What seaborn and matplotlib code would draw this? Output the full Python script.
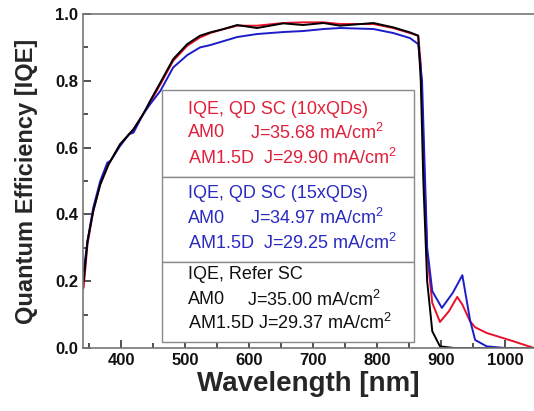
import numpy as np
import pandas as pd
import matplotlib
matplotlib.use('Agg')
import matplotlib.pyplot as plt
from matplotlib.patches import Rectangle
from matplotlib.ticker import MultipleLocator
import seaborn as sns

# IQE, QD SC (10xQDs) - red
wl_red=[341,347,356,367,380,398,419,434,445,461,481,503,523,539,560,581,612,653,684,716,742,794,825,851,864,868,872,878,886,898,912,925,933,945,953,971,1013,1045]
iqe_red=[0.18,0.31,0.41,0.49,0.55,0.61,0.655,0.70,0.735,0.79,0.86,0.905,0.93,0.943,0.955,0.965,0.965,0.973,0.975,0.975,0.97,0.97,0.958,0.943,0.935,0.85,0.6,0.28,0.135,0.078,0.11,0.153,0.13,0.08,0.062,0.045,0.02,0.0]

# IQE, QD SC (15xQDs) - blue
wl_blue=[341,347,356,367,378,383,398,412,419,434,445,461,481,503,523,539,581,612,653,684,716,742,794,825,851,864,870,874,878,886,901,918,933,945,953,971,1000,1045]
iqe_blue=[0.23,0.32,0.42,0.50,0.555,0.56,0.605,0.64,0.645,0.70,0.73,0.77,0.84,0.877,0.90,0.907,0.931,0.94,0.946,0.949,0.955,0.958,0.955,0.943,0.928,0.91,0.8,0.55,0.30,0.17,0.12,0.165,0.218,0.084,0.024,0.005,0.0,0.0]

# IQE, Refer SC - black
wl_ref=[341,347,356,367,380,398,419,434,445,461,481,503,523,539,560,581,612,653,684,716,742,794,825,851,864,868,872,878,886,898,920,1045]
iqe_ref=[0.20,0.32,0.41,0.49,0.55,0.61,0.655,0.70,0.74,0.795,0.865,0.91,0.935,0.945,0.955,0.967,0.958,0.972,0.967,0.973,0.965,0.973,0.96,0.945,0.935,0.8,0.5,0.2,0.05,0.005,0.0,0.0]

box_titles=['IQE, QD SC (10xQDs)','IQE, QD SC (15xQDs)','IQE, Refer SC']
am0_labels=['J=35.68 mA/cm$^2$','J=34.97 mA/cm$^2$','J=35.00 mA/cm$^2$']
am15_labels=['AM1.5D  J=29.90 mA/cm$^2$','AM1.5D  J=29.25 mA/cm$^2$','AM1.5D J=29.37 mA/cm$^2$']

red='#e8102a'
blue='#1c1cc8'
colors=[red,blue,'black']
text_colors=['#e0203a','#2a2ac0','#111111']

sns.set_style('ticks')
plt.rcParams['font.family']=['Liberation Sans','DejaVu Sans']
plt.rcParams['mathtext.default']='regular'
plt.rcParams['xtick.bottom']=True
plt.rcParams['ytick.left']=True
plt.rcParams['xtick.direction']='in'
plt.rcParams['ytick.direction']='in'
plt.rcParams['xtick.major.size']=6
plt.rcParams['ytick.major.size']=6
plt.rcParams['xtick.minor.size']=3
plt.rcParams['ytick.minor.size']=3
plt.rcParams['xtick.minor.visible']=True
plt.rcParams['ytick.minor.visible']=True

fig=plt.figure(figsize=(5.34,4.11),dpi=100)
ax=fig.add_axes([83/534,63/411,451/534,334/411])

for wl,iqe,c in zip([wl_red,wl_blue,wl_ref],[iqe_red,iqe_blue,iqe_ref],colors):
    df=pd.DataFrame({'wl':wl,'iqe':iqe})
    sns.lineplot(data=df,x='wl',y='iqe',color=c,lw=1.4,ax=ax,estimator=None,sort=False)

ax.set_xlim(340,1045)
ax.set_ylim(0,1.0)
ax.set_xticks([400,500,600,700,800,900,1000])
ax.set_xticklabels(['400','500','600','700','800','900','1000'],fontweight='bold')
ax.set_yticks([0.0,0.2,0.4,0.6,0.8,1.0])
ax.set_yticklabels(['0.0','0.2','0.4','0.6','0.8','1.0'],fontweight='bold')
ax.xaxis.set_minor_locator(MultipleLocator(50))
ax.yaxis.set_minor_locator(MultipleLocator(0.1))
ax.tick_params(which='both',direction='in',color='#333333',width=1.2,bottom=True,left=True,top=False,right=False)
ax.tick_params(which='major',length=6,labelsize=12,labelcolor='#111111')
ax.tick_params(which='minor',length=3.5)
for s in ['left','bottom','top']:
    ax.spines[s].set_color('#777777')
    ax.spines[s].set_linewidth(1.2)
    ax.spines[s].set_visible(True)
ax.spines['right'].set_visible(False)

ax.set_xlabel('Wavelength [nm]',fontsize=20,fontweight='bold',labelpad=2)
ax.set_ylabel('Quantum Efficiency [IQE]',fontsize=17,fontweight='bold',labelpad=12)

# legend boxes
box_tops=[0.772,0.512,0.257]
box_bots=[0.512,0.257,0.018]
for i in range(3):
    ax.add_patch(Rectangle((0.175,box_bots[i]),0.559,box_tops[i]-box_bots[i],transform=ax.transAxes,
                           facecolor='white',edgecolor='#8a8a8a',lw=1.0,zorder=5))
line_y=[[0.713,0.644,0.569],[0.464,0.389,0.314],[0.219,0.144,0.075]]
j_x=[0.370,0.370,0.363]
fs=13
for i in range(3):
    ax.text(0.233,line_y[i][0],box_titles[i],transform=ax.transAxes,color=text_colors[i],fontsize=fs,va='center',zorder=6)
    ax.text(0.233,line_y[i][1],'AM0',transform=ax.transAxes,color=text_colors[i],fontsize=fs,va='center',zorder=6)
    ax.text(j_x[i],line_y[i][1],am0_labels[i],transform=ax.transAxes,color=text_colors[i],fontsize=fs,va='center',zorder=6)
    ax.text(0.233,line_y[i][2],am15_labels[i],transform=ax.transAxes,color=text_colors[i],fontsize=fs,va='center',zorder=6)

fig.savefig('out.png',dpi=100)
